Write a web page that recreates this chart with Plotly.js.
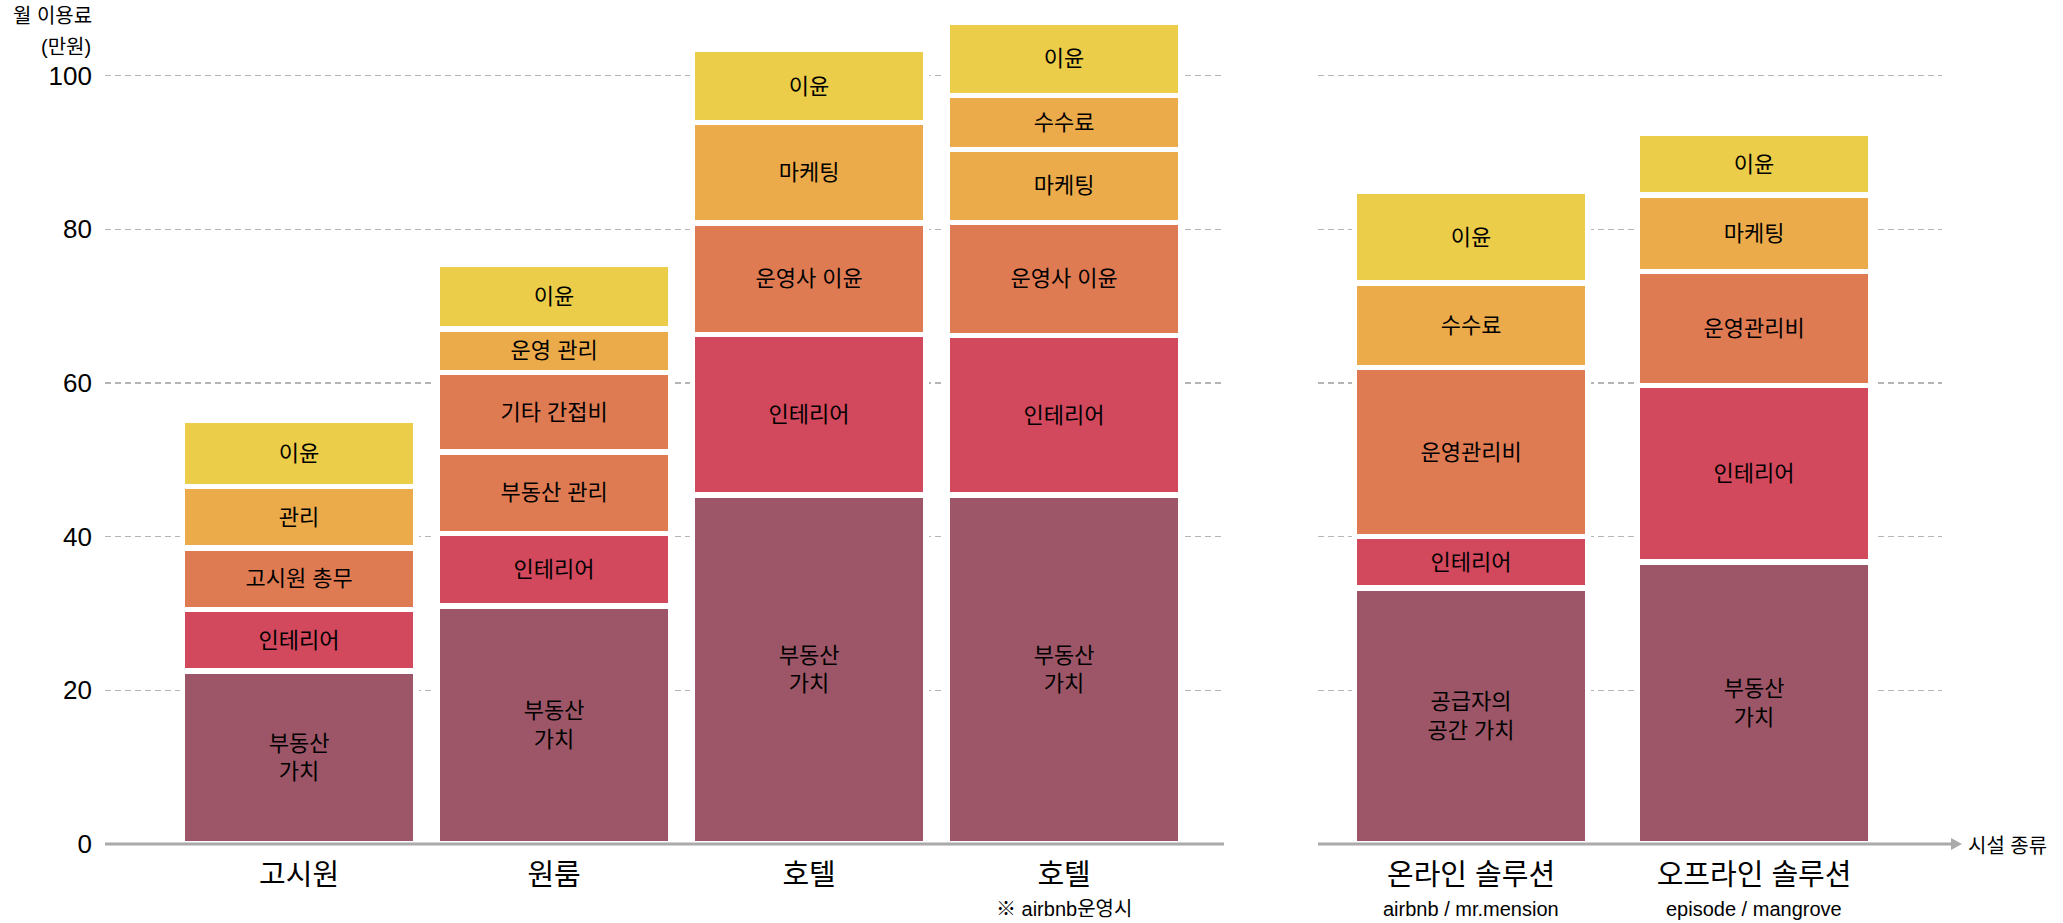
<!DOCTYPE html>
<html>
<head>
<meta charset="utf-8">
<script src="https://cdn.plot.ly/plotly-3.0.1.min.js"></script>
<style>html,body{margin:0;padding:0;background:#fff;}</style>
</head>
<body>
<div id="chart" style="width:2063px;height:923px;"></div>
<script>
// ---------------- DATA ----------------
const leftCategories = ['고시원', '원룸', '호텔', '호텔'];
const leftNotes = ['', '', '', '※ airbnb운영시'];
const rightCategories = ['온라인 솔루션', '오프라인 솔루션'];
const rightNotes = ['airbnb / mr.mension', 'episode / mangrove'];

// segments listed bottom -> top (만원)
const goshiwonSegments = ['부동산<br>가치', '인테리어', '고시원 총무', '관리', '이윤'];
const goshiwonValues   = [22.5, 8.0, 8.0, 8.0, 8.6];

const oneroomSegments = ['부동산<br>가치', '인테리어', '부동산 관리', '기타 간접비', '운영 관리', '이윤'];
const oneroomValues   = [31.0, 9.4, 10.6, 10.4, 5.6, 8.4];

const hotelSegments = ['부동산<br>가치', '인테리어', '운영사 이윤', '마케팅', '이윤'];
const hotelValues   = [45.4, 20.9, 14.5, 13.1, 9.5];

const hotelAirbnbSegments = ['부동산<br>가치', '인테리어', '운영사 이윤', '마케팅', '수수료', '이윤'];
const hotelAirbnbValues   = [45.4, 20.8, 14.7, 9.5, 7.0, 9.6];

const onlineSegments = ['공급자의<br>공간 가치', '인테리어', '운영관리비', '수수료', '이윤'];
const onlineValues   = [33.3, 6.7, 22.0, 11.0, 12.0];

const offlineSegments = ['부동산<br>가치', '인테리어', '운영관리비', '마케팅', '이윤'];
const offlineValues   = [36.7, 23.0, 14.8, 10.0, 8.0];

const yTickValues = [0, 20, 40, 60, 80, 100];
const yTitleLines = ['월 이용료', '(만원)'];
const xAxisName = '시설 종류';

// ---------------- STYLE ----------------
const FONT = "'Liberation Sans', 'Noto Sans CJK KR', sans-serif";
const TEXT = '#000000';
const AXIS_GRAY = '#aaaaaa';
const SEG_COLOR = {
  '부동산<br>가치': '#9D5667',
  '공급자의<br>공간 가치': '#9D5667',
  '인테리어': '#D2485C',
  '고시원 총무': '#DF7B53',
  '부동산 관리': '#DF7B53',
  '기타 간접비': '#DF7B53',
  '운영사 이윤': '#DF7B53',
  '운영관리비': '#DF7B53',
  '관리': '#ECAB4A',
  '운영 관리': '#ECAB4A',
  '마케팅': '#ECAB4A',
  '수수료': '#ECAB4A',
  '이윤': '#EBCD49'
};

const W = 2063, H = 923;
const ML = 105, MR = 121, MT = 10, MB = 75;
const PW = W - ML - MR, PH = H - MT - MB;
const px2x = p => (p - ML) / PW;
const px2y = p => (H - MB - p) / PH;

const stacks = [
  {segs: goshiwonSegments, vals: goshiwonValues, pos: 0, xa: 'x'},
  {segs: oneroomSegments, vals: oneroomValues, pos: 1, xa: 'x'},
  {segs: hotelSegments, vals: hotelValues, pos: 2, xa: 'x'},
  {segs: hotelAirbnbSegments, vals: hotelAirbnbValues, pos: 3, xa: 'x'},
  {segs: onlineSegments, vals: onlineValues, pos: 0, xa: 'x2'},
  {segs: offlineSegments, vals: offlineValues, pos: 1, xa: 'x2'}
];

const BORDER = 5.5;
const traces = [];
stacks.forEach(s => {
  s.segs.forEach((label, i) => {
    traces.push({
      type: 'bar',
      x: [s.pos],
      y: [s.vals[i]],
      xaxis: s.xa,
      yaxis: 'y',
      width: s.xa === 'x' ? 0.916 : 0.825,
      text: [label],
      textposition: 'inside',
      insidetextanchor: 'middle',
      textangle: 0,
      constraintext: 'none',
      textfont: {family: FONT, size: 22, color: TEXT},
      marker: {color: SEG_COLOR[label], line: {color: '#ffffff', width: BORDER}},
      hoverinfo: 'skip',
      showlegend: false
    });
  });
});

const NOTE_Y = px2y(909);
const annotations = [];
leftNotes.forEach((t, i) => {
  if (t) annotations.push({xref: 'x', yref: 'paper', x: i, y: NOTE_Y, text: t, borderpad: 0,
    showarrow: false, xanchor: 'center', yanchor: 'middle', font: {family: FONT, size: 20, color: TEXT}});
});
rightNotes.forEach((t, i) => {
  if (t) annotations.push({xref: 'x2', yref: 'paper', x: i, y: NOTE_Y, text: t, borderpad: 0,
    showarrow: false, xanchor: 'center', yanchor: 'middle', font: {family: FONT, size: 20, color: TEXT}});
});
annotations.push({xref: 'paper', yref: 'paper', x: px2x(94), y: px2y(16), text: yTitleLines[0],
  showarrow: false, xanchor: 'right', yanchor: 'middle', font: {family: FONT, size: 20, color: TEXT}});
annotations.push({xref: 'paper', yref: 'paper', x: px2x(93), y: px2y(47), text: yTitleLines[1],
  showarrow: false, xanchor: 'right', yanchor: 'middle', font: {family: FONT, size: 20, color: TEXT}});
annotations.push({xref: 'paper', yref: 'paper', x: px2x(1966), y: px2y(846), text: xAxisName,
  showarrow: false, xanchor: 'left', yanchor: 'middle', font: {family: FONT, size: 20, color: TEXT}});

const axisY = px2y(844);
const leftEnd = 1224, rightStart = 1318;
const shapes = [
  {type: 'line', xref: 'paper', yref: 'paper', x0: 0, x1: px2x(leftEnd), y0: axisY, y1: axisY,
   line: {color: AXIS_GRAY, width: 3}, layer: 'above'},
  {type: 'line', xref: 'paper', yref: 'paper', x0: px2x(rightStart), x1: px2x(1953), y0: axisY, y1: axisY,
   line: {color: AXIS_GRAY, width: 3}, layer: 'above'},
  {type: 'path', xref: 'paper', yref: 'paper',
   path: `M ${px2x(1951)} ${px2y(838)} L ${px2x(1962)} ${axisY} L ${px2x(1951)} ${px2y(850)} Z`,
   fillcolor: AXIS_GRAY, line: {color: AXIS_GRAY, width: 0}, layer: 'above'}
];

const pxPerUnit = 7.683;
const yMin = -(H - MB - 844) / pxPerUnit;
const yMax = PH / pxPerUnit + yMin;

const layout = {
  width: W, height: H,
  margin: {l: ML, r: MR, t: MT, b: MB, pad: 0},
  paper_bgcolor: '#ffffff',
  plot_bgcolor: 'rgba(0,0,0,0)',
  font: {family: FONT, color: TEXT},
  barmode: 'stack',
  showlegend: false,
  xaxis: {
    domain: [0, px2x(leftEnd)],
    range: [-0.761, 3.627],
    tickvals: [0, 1, 2, 3], ticktext: leftCategories,
    showgrid: false, zeroline: false, showline: false, ticks: '',
    tickfont: {family: FONT, size: 29, color: TEXT},
    ticklabelstandoff: 7,
    anchor: 'y', fixedrange: true
  },
  xaxis2: {
    domain: [px2x(rightStart), 1],
    range: [-0.5406, 1.664],
    tickvals: [0, 1], ticktext: rightCategories,
    showgrid: false, zeroline: false, showline: false, ticks: '',
    tickfont: {family: FONT, size: 29, color: TEXT},
    ticklabelstandoff: 7,
    anchor: 'y', fixedrange: true
  },
  yaxis: {
    range: [yMin, yMax],
    tickvals: yTickValues,
    showgrid: true, gridcolor: '#b5b5b5', gridwidth: 1.2, griddash: '6px,4px',
    zeroline: false, showline: false, ticks: '',
    tickfont: {family: FONT, size: 26, color: TEXT},
    ticklabelstandoff: 12,
    fixedrange: true
  },
  annotations: annotations,
  shapes: shapes
};

Plotly.newPlot('chart', traces, layout, {displayModeBar: false, staticPlot: true});
</script>
</body>
</html>
